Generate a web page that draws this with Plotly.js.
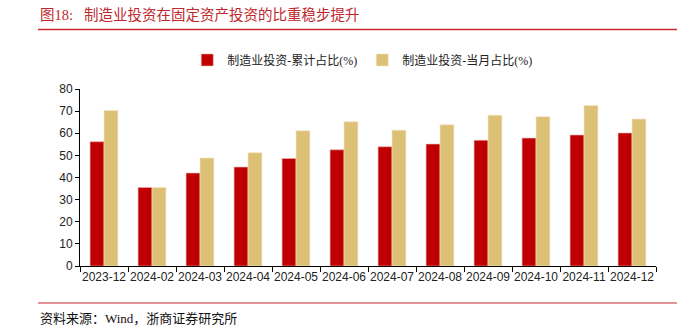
<!DOCTYPE html>
<html>
<head>
<meta charset="utf-8">
<script src="https://cdn.plot.ly/plotly-3.0.1.min.js"></script>
<style>html,body{margin:0;padding:0;background:#fff;}#chart{width:693px;height:329px;}</style>
</head>
<body>
<div id="chart"></div>
<script>
const categories = ['2023-12','2024-02','2024-03','2024-04','2024-05','2024-06','2024-07','2024-08','2024-09','2024-10','2024-11','2024-12'];
const cumulativeShare = [56.2, 35.5, 42.0, 44.7, 48.6, 52.5, 53.9, 55.1, 56.8, 57.8, 59.2, 60.1];
const monthlyShare = [70.3, 35.5, 48.8, 51.2, 61.1, 65.2, 61.4, 63.8, 68.1, 67.5, 72.5, 66.4];
const seriesNames = ['制造业投资-累计占比(%)', '制造业投资-当月占比(%)'];
const titleText = '图18:   制造业投资在固定资产投资的比重稳步提升';
const sourceText = '资料来源：Wind，浙商证券研究所';

const cjk = '"Times New Roman", "Liberation Serif", "Noto Sans CJK SC", serif';
const traces = [
  {type:'bar', x:categories, y:cumulativeShare, name:seriesNames[0],
   marker:{color:'#C00000', line:{color:'#E8B0B0', width:0.6}}},
  {type:'bar', x:categories, y:monthlyShare, name:seriesNames[1],
   marker:{color:'#DCC076', line:{color:'#F3E6C4', width:0.6}}}
];
const layout = {
  width:693, height:329,
  margin:{l:80, r:37, t:89, b:63},
  paper_bgcolor:'#fff', plot_bgcolor:'#fff',
  barmode:'group', bargap:0.42, bargroupgap:0,
  showlegend:true,
  legend:{orientation:'h', x:0.49, xanchor:'center', y:1.164, yanchor:'middle',
    font:{family:cjk, size:12, color:'#222'}, itemwidth:30, tracegroupgap:0},
  xaxis:{type:'category', showline:true, linecolor:'#000', linewidth:1,
    ticks:'outside', ticklen:5, tickcolor:'#000', tickson:'boundaries', tickangle:0,
    tickfont:{family:'Arial, "Liberation Sans", sans-serif', size:12, color:'#222'},
    showgrid:false, zeroline:false},
  yaxis:{range:[0,80], dtick:10, showline:true, linecolor:'#000', linewidth:1,
    ticks:'outside', ticklen:4, tickcolor:'#000', showgrid:false, zeroline:false,
    tickfont:{family:'Arial, "Liberation Sans", sans-serif', size:12, color:'#222'}},
  shapes:[
    {type:'line', xref:'paper', yref:'paper', x0:-0.0729, x1:1.0365, y0:1.336, y1:1.336,
     line:{color:'#C8292F', width:1.5}},
    {type:'line', xref:'paper', yref:'paper', x0:-0.0729, x1:1.0365, y0:-0.209, y1:-0.209,
     line:{color:'#C8292F', width:1}}
  ],
  annotations:[
    {xref:'paper', yref:'paper', x:-0.0729, y:1.418, xanchor:'left', yanchor:'middle',
     text:titleText, showarrow:false, font:{family:cjk, size:14.5, color:'#C0272D'}},
    {xref:'paper', yref:'paper', x:-0.0729, y:-0.294, xanchor:'left', yanchor:'middle',
     text:sourceText, showarrow:false, font:{family:cjk, size:13, color:'#111'}}
  ]
};
Plotly.newPlot('chart', traces, layout, {displayModeBar:false, staticPlot:true});
</script>
</body>
</html>
